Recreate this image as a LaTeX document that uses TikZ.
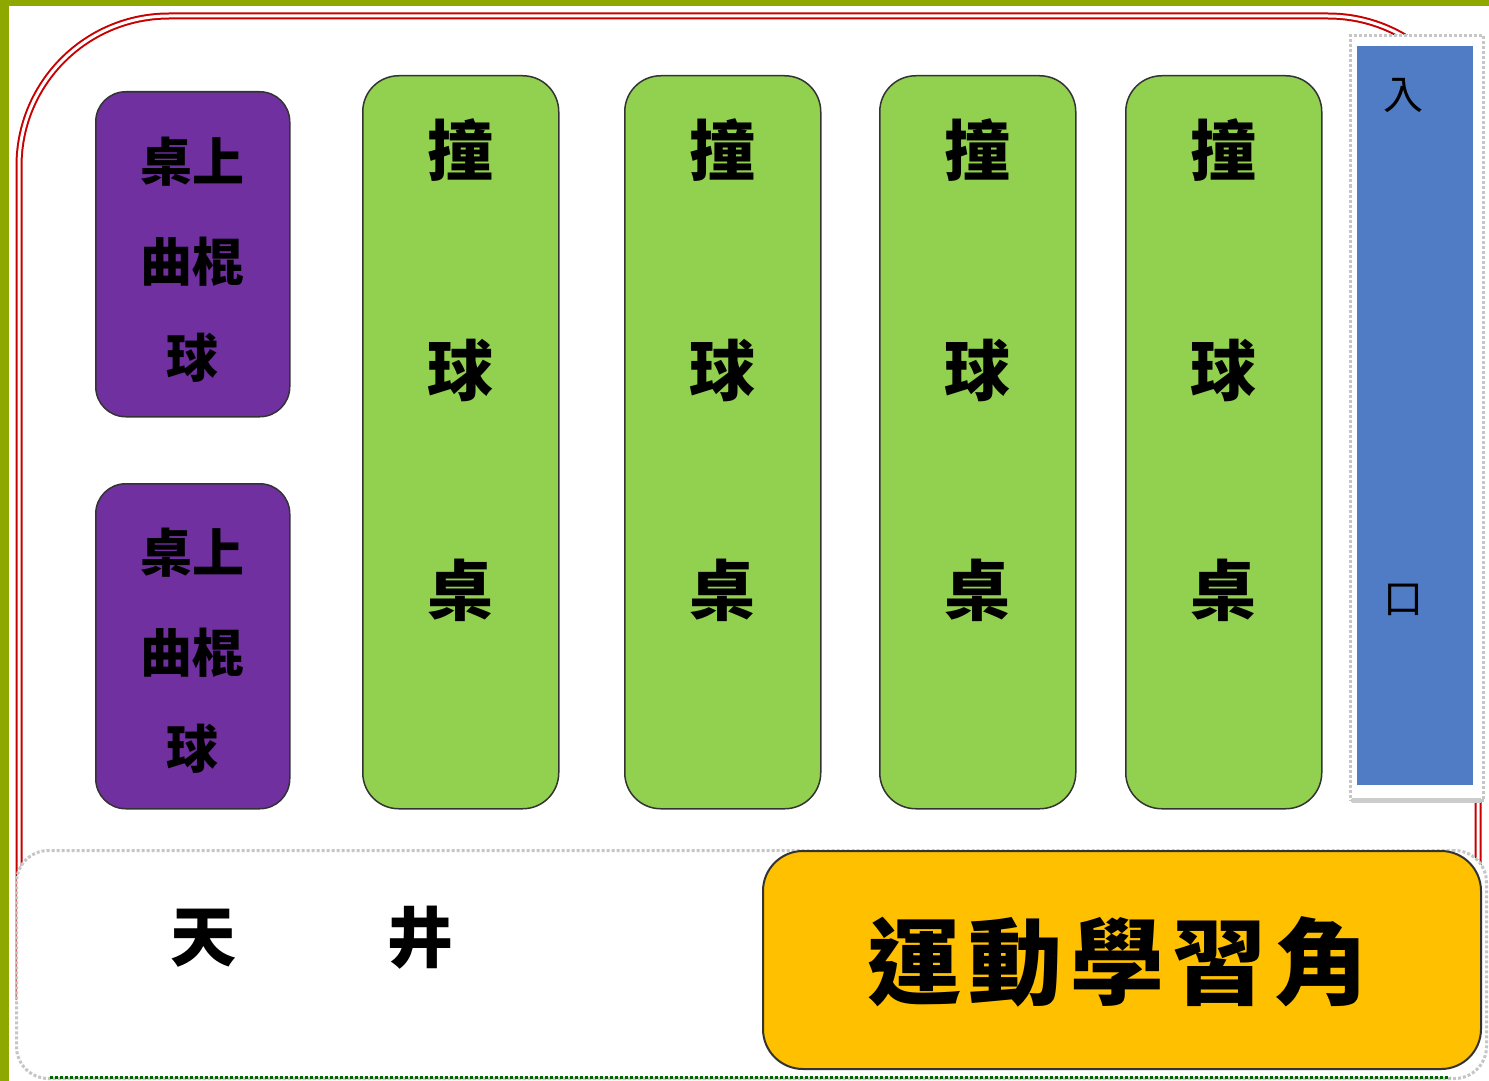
\documentclass[tikz,border=0pt]{standalone}
\usepackage{fontspec}
\newfontfamily\cjk{Noto Sans CJK TC}
\definecolor{olive}{HTML}{8FA800}
\definecolor{tgreen}{HTML}{92D050}
\definecolor{tpurple}{HTML}{7030A0}
\definecolor{tblue}{HTML}{4F7CC4}
\definecolor{torange}{HTML}{FFC000}
\definecolor{redline}{HTML}{C80000}
\tikzset{
  greenbox/.style={draw=black!80, line width=1.5pt, fill=tgreen, rounded corners=36pt, minimum width=196pt, minimum height=733pt, anchor=north west, inner sep=0pt},
  purplebox/.style={draw=black!80, line width=1.5pt, fill=tpurple, rounded corners=30pt, minimum width=194pt, minimum height=325pt, anchor=north west, inner sep=0pt},
  bigchar/.style={font=\cjk\bfseries\fontsize{66}{66}\selectfont, text=black, inner sep=0pt},
  midchar/.style={font=\cjk\bfseries\fontsize{52}{52}\selectfont, text=black, inner sep=0pt},
  entchar/.style={font=\cjk\fontsize{40}{40}\selectfont, text=black, inner sep=0pt},
}
\begin{document}
\begin{tikzpicture}[x=1pt,y=-1pt]
\useasboundingbox (0,0) rectangle (1489,1081);
\fill[white] (0,0) rectangle (1489,1081);
% olive frame
\fill[olive] (0,0) rectangle (1489,6);
\fill[olive] (0,0) rectangle (9,1081);
% red double rounded frame
\draw[redline, line width=2pt, double=white, double distance=3pt, rounded corners=150pt]
  (19,1000) -- (19,16) -- (1478,16) -- (1478,1000);
% entrance
\node[draw=gray!45, dotted, line width=3pt, fill=white, minimum width=133pt, minimum height=765pt, anchor=north west, inner sep=0pt] (entframe) at (1349,34) {};
\fill[gray!40] (1352,798) rectangle (1481,803);
\node[fill=tblue, minimum width=116pt, minimum height=739pt, anchor=north west, inner sep=0pt] (entrance) at (1357,46) {};
\node[entchar] (ru) at (1403,95) {入};
\node[entchar] (kou) at (1403,600) {口};
% purple boxes
\node[purplebox] (p1) at (95,91) {};
\node[purplebox] (p2) at (95,483) {};
\node[midchar] (p1a) at (192,162) {桌上};
\node[midchar] (p1b) at (192,262) {曲棍};
\node[midchar] (p1c) at (192,358) {球};
\node[midchar] (p2a) at (192,553) {桌上};
\node[midchar] (p2b) at (192,653) {曲棍};
\node[midchar] (p2c) at (192,749) {球};
% green tables
\foreach \x/\n in {362/g1,624/g2,879/g3,1125/g4}{
  \node[greenbox] (\n) at (\x,75) {};
  \node[bigchar] (\n a) at (\x+98,150) {撞};
  \node[bigchar] (\n b) at (\x+98,370) {球};
  \node[bigchar] (\n c) at (\x+98,590) {桌};
}
% courtyard
\node[draw=gray!45, dotted, line width=3pt, fill=white, rounded corners=32pt, minimum width=1470pt, minimum height=228pt, anchor=north west, inner sep=0pt] (court) at (15,849) {};
\draw[black!60!green, dotted, line width=3pt] (50,1077) -- (1450,1077);
\node[font=\cjk\bfseries\fontsize{66}{66}\selectfont, inner sep=0pt] (tian) at (203,938) {天};
\node[font=\cjk\bfseries\fontsize{66}{66}\selectfont, inner sep=0pt] (jing) at (420,938) {井};
% learning corner
\node[draw=black!80, line width=2pt, fill=torange, rounded corners=40pt, minimum width=718pt, minimum height=218pt, anchor=north west, inner sep=0pt] (corner) at (762,850) {};
\node[font=\cjk\bfseries\fontsize{94}{94}\selectfont, inner sep=0pt] (cornertext) at (1118,962) {運\hspace{8pt}動\hspace{8pt}學\hspace{8pt}習\hspace{8pt}角};
\end{tikzpicture}
\end{document}
